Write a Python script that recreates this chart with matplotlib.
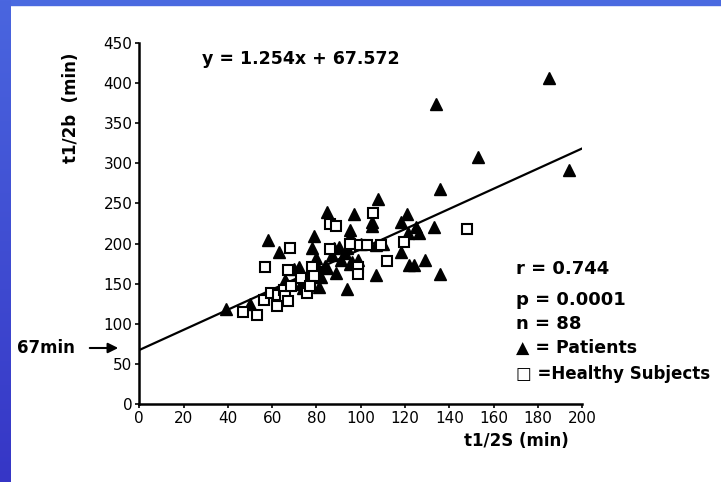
import numpy as np
import matplotlib.pyplot as plt

# podaci ocitani sa slike
patients_x = [39, 50, 58, 63, 62, 62, 70, 72, 73, 74, 78, 79, 80, 80, 81, 82, 85, 85,
              88, 89, 91, 94, 95, 95, 94, 97, 96, 99, 95, 93, 105, 105, 108, 107, 107,
              118, 118, 121, 121.5, 122, 124, 125, 126.5, 129, 133, 134, 136, 136, 153,
              185, 194, 84, 76, 90, 100, 110, 66, 87]
patients_y = [118, 125, 205, 190, 132, 138, 168, 171, 150, 145, 194, 210, 182, 175, 146,
              159, 239, 169, 194, 164, 180, 144, 217, 209, 194, 237, 177, 180, 175, 188,
              227, 222, 255, 161, 198, 227, 189, 237, 213, 173, 173, 221, 213, 180, 221,
              374, 162, 268, 308, 406, 291, 172, 160, 196, 200, 200, 155, 186]

healthy_x = [47, 53, 57, 56.5, 59.5, 62, 62.5, 65.5, 66, 67.3, 68, 67.3, 68.3, 73, 75.8,
             78, 78.7, 77, 86, 88.7, 86, 95, 99.5, 99, 99, 105.7, 103, 109, 112, 119.4, 148]
healthy_y = [115, 111, 171, 130, 138, 122, 136, 142, 135, 128, 194, 167, 147, 157, 139,
             171, 160, 147, 224, 222, 193, 200, 198, 171, 162, 238, 198, 198, 178, 202, 218]

slope, intercept = 1.254, 67.572
xticks = np.arange(0, 201, 20)
yticks = np.arange(0, 451, 50)

fig = plt.figure(figsize=(7.21, 4.82), dpi=100, facecolor='white')

# plavi okvir lijevo (gradijent) i gore
bl = fig.add_axes([0, 0, 11/721, 1])
grad = np.linspace(0, 1, 256).reshape(-1, 1)
top_c = np.array([0x4a, 0x66, 0xdf]) / 255
bot_c = np.array([0x36, 0x36, 0xc6]) / 255
img = top_c[None, None, :] * (1 - grad[:, :, None]) + bot_c[None, None, :] * grad[:, :, None]
bl.imshow(img, aspect='auto', extent=[0, 1, 0, 1])
bl.axis('off')
fig.add_artist(plt.Rectangle((0, 1 - 5/482), 1, 5/482, transform=fig.transFigure,
                             color='#4a6ae0', zorder=0))

ax = fig.add_axes([139.3/721, 1 - 404.3/482, 442.8/721, 361.6/482])
x = np.array([0, 200])
ax.plot(x, slope*x + intercept, color='black', lw=1.6, zorder=2)
ax.plot(patients_x, patients_y, '^', color='black', ms=8, zorder=3, clip_on=False)
ax.plot(healthy_x, healthy_y, 's', mfc='white', mec='black', mew=1.5, ms=7, zorder=4,
        clip_on=False)

ax.set_xlim(0, 200)
ax.set_ylim(0, 450)
ax.set_xticks(xticks)
ax.set_yticks(yticks)
ax.spines['top'].set_visible(False)
ax.spines['right'].set_visible(False)
ax.spines['left'].set_linewidth(1.8)
ax.spines['bottom'].set_linewidth(1.8)
ax.tick_params(direction='out', length=3, width=1.2, labelsize=11, pad=2)
ax.set_facecolor('none')

fig.text(202/721, 1 - 59/482, 'y = 1.254x + 67.572', fontsize=12.5, fontweight='bold',
         va='center', ha='left')
fig.text(71/721, 1 - 108/482, 't1/2b  (min)', fontsize=12, fontweight='bold',
         rotation=90, va='center', ha='center')
fig.text(516/721, 1 - 441/482, 't1/2S (min)', fontsize=12, fontweight='bold',
         va='center', ha='center')

fig.text(516/721, 1 - 269/482, 'r = 0.744', fontsize=13, fontweight='bold', va='center')
fig.text(516/721, 1 - 300/482, 'p = 0.0001', fontsize=13, fontweight='bold', va='center')
fig.text(516/721, 1 - 324/482, 'n = 88', fontsize=13, fontweight='bold', va='center')
fig.text(516/721, 1 - 348/482, '▲ = Patients', fontsize=12.5, fontweight='bold', va='center')
fig.text(516/721, 1 - 374/482, '□ =Healthy Subjects', fontsize=12, fontweight='bold',
         va='center')

fig.text(17/721, 1 - 348/482, '67min', fontsize=12, fontweight='bold', va='center')
ax.annotate('', xy=(121/721, 1 - 348/482), xytext=(87/721, 1 - 348/482),
            xycoords='figure fraction', textcoords='figure fraction',
            arrowprops=dict(arrowstyle='-|>', color='black', lw=1.5, mutation_scale=15))

fig.savefig('out.png', dpi=100, facecolor='white')
